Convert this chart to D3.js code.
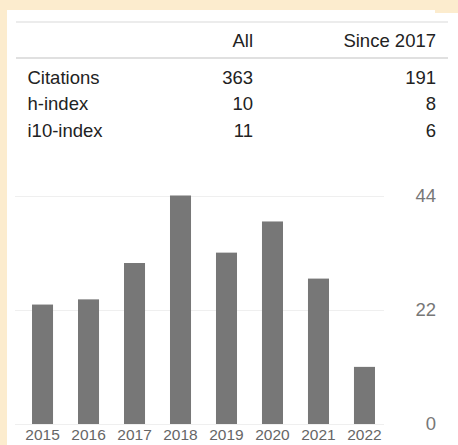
<!DOCTYPE html>
<html>
<head>
<meta charset="utf-8">
<script src="https://cdn.jsdelivr.net/npm/d3@7"></script>
<style>
  html, body { margin: 0; padding: 0; background: #fcecce; }
  svg { display: block; font-family: "Liberation Sans", Arial, sans-serif; }
</style>
</head>
<body>
<svg id="chart" width="458" height="445"></svg>
<script>
// stats table
const columns = ['All', 'Since 2017'];
const rowNames = ['Citations', 'h-index', 'i10-index'];
const allValues = [363, 10, 11];
const sinceValues = [191, 8, 6];

// citations per year
const years = ['2015', '2016', '2017', '2018', '2019', '2020', '2021', '2022'];
const citations = [23, 24, 31, 44, 33, 39, 28, 11];
const yTicks = [0, 22, 44];

const svg = d3.select('#chart');

// white card
svg.append('rect')
    .attr('x', 7).attr('y', 10)
    .attr('width', 451).attr('height', 435)
    .attr('fill', '#fff');
svg.append('rect')
    .attr('x', 435).attr('y', 10)
    .attr('width', 23).attr('height', 3)
    .attr('fill', '#fcecce');

// table
const colRight = [253, 436];
svg.append('line')
    .attr('x1', 16).attr('x2', 448)
    .attr('y1', 22).attr('y2', 22)
    .attr('stroke', '#e6e6e6').attr('stroke-width', 1.5);
svg.append('line')
    .attr('x1', 16).attr('x2', 448)
    .attr('y1', 58).attr('y2', 58)
    .attr('stroke', '#e0e0e0').attr('stroke-width', 2);

svg.selectAll('.head')
    .data(columns)
    .enter()
    .append('text')
    .attr('class', 'head')
    .attr('x', (d, i) => colRight[i])
    .attr('y', 47)
    .attr('text-anchor', 'end')
    .attr('font-size', 18.5)
    .attr('fill', '#222')
    .text(d => d);

const rowY = [83.5, 110, 137];
const rows = svg.selectAll('.row')
    .data(rowNames)
    .enter()
    .append('g')
    .attr('class', 'row')
    .attr('transform', (d, i) => `translate(0,${rowY[i]})`)
    .attr('font-size', 18.5)
    .attr('fill', '#222');

rows.append('text')
    .attr('x', 27.5)
    .text(d => d);
rows.append('text')
    .attr('x', colRight[0])
    .attr('text-anchor', 'end')
    .text((d, i) => allValues[i]);
rows.append('text')
    .attr('x', colRight[1])
    .attr('text-anchor', 'end')
    .text((d, i) => sinceValues[i]);

// bar chart
const x = d3.scaleBand()
    .domain(years)
    .range([19.5, 387.5])
    .paddingInner(0.543)
    .paddingOuter(0.272);

const y = d3.scaleLinear()
    .domain([0, 44])
    .range([424, 195.5]);

svg.selectAll('.grid')
    .data(yTicks)
    .enter()
    .append('line')
    .attr('class', 'grid')
    .attr('x1', 15).attr('x2', 384)
    .attr('y1', d => Math.round(y(d)) + 0.5)
    .attr('y2', d => Math.round(y(d)) + 0.5)
    .attr('stroke', '#efefef');

svg.selectAll('.ylab')
    .data(yTicks)
    .enter()
    .append('text')
    .attr('class', 'ylab')
    .attr('x', 436)
    .attr('y', d => y(d))
    .attr('dy', '0.35em')
    .attr('text-anchor', 'end')
    .attr('font-size', 18.5)
    .attr('fill', '#777')
    .text(d => d);

svg.selectAll('.bar')
    .data(citations)
    .enter()
    .append('rect')
    .attr('class', 'bar')
    .attr('x', (d, i) => x(years[i]))
    .attr('y', d => y(d))
    .attr('width', x.bandwidth())
    .attr('height', d => y(0) - y(d))
    .attr('fill', '#777');

svg.selectAll('.xlab')
    .data(years)
    .enter()
    .append('text')
    .attr('class', 'xlab')
    .attr('x', d => x(d) + x.bandwidth() / 2)
    .attr('y', 440)
    .attr('text-anchor', 'middle')
    .attr('font-size', 15.5)
    .attr('fill', '#666')
    .text(d => d);
</script>
</body>
</html>
